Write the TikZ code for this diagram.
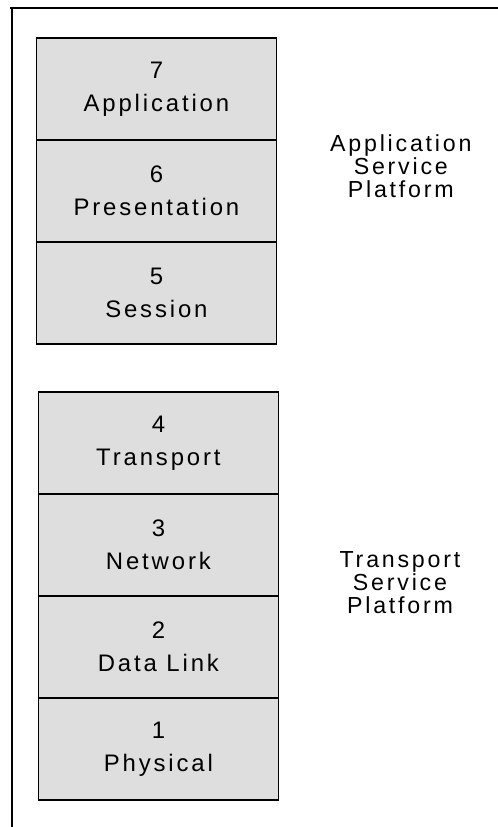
\documentclass[tikz,border=0pt]{standalone}
\usepackage{fontspec}
\setmainfont{Liberation Sans}[LetterSpace=12]
\usetikzlibrary{calc}
\usetikzlibrary{arrows,backgrounds,positioning,fit}

\tikzset{
  layerbox/.style={rectangle,minimum height=2.55cm,minimum width=6.0cm,fill=black!13,draw=black,line width=1.2pt,outer sep=0pt,align=center,font=\fontsize{17}{23.4}\selectfont},
  platform/.style={align=center,font=\fontsize{16.5}{16.3}\selectfont}
}

\begin{document}
\begin{tikzpicture}

\useasboundingbox (0,0) rectangle (12.45,-20.675);
\coordinate (LEFTCORNER) at (0,0);

%draw frame (only top and left side)
\draw[line width=1.2pt] ($(LEFTCORNER)+(0.25,-0.2)$) -- ++(12.2,0);
\draw[line width=1.2pt] ($(LEFTCORNER)+(0.3,-0.2)$) -- ++(0,-20.475);

%%%%%%%%%%%%%%%%%%%%%

%draw upper layers
\node[layerbox] at ($(LEFTCORNER)+(3.91,-2.225)$) (LAYER7) {7\\Application};
\node[layerbox,below=0pt of LAYER7] (LAYER6) {6\\Presentation};
\node[layerbox,below=0pt of LAYER6] (LAYER5) {5\\Session};

%%%%%%%

%draw lower layers
\node[layerbox] at ($(LEFTCORNER)+(3.96,-11.08)$) (LAYER4) {4\\Transport};
\node[layerbox,below=0pt of LAYER4] (LAYER3) {3\\Network};
\node[layerbox,below=0pt of LAYER3] (LAYER2) {2\\Data Link};
\node[layerbox,below=0pt of LAYER2] (LAYER1) {1\\Physical};

%%%%%%%%%%%%%%%%%%%
%draw platform labels

\node[platform] at ($(LEFTCORNER)+(10.02,-4.15)$) (APPPLATFORM) {Application\\Service\\Platform};
\node[platform] at ($(LEFTCORNER)+(10.0,-14.575)$) (TRANSPLATFORM) {Transport\\Service\\Platform};

%%%%%%%%%%%%%%%%%%%%%%

\end{tikzpicture}
\end{document}
